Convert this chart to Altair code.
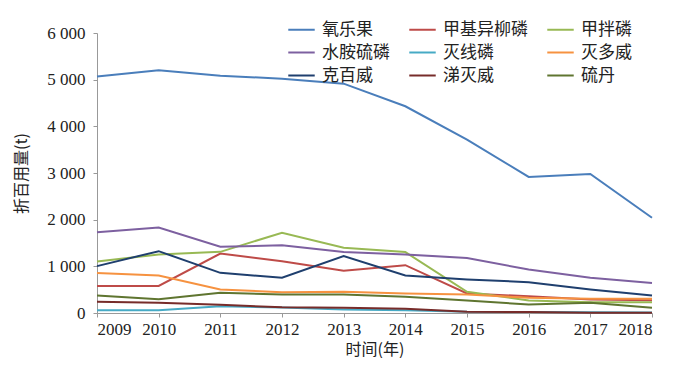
import altair as alt
import pandas as pd

years = [2009, 2010, 2011, 2012, 2013, 2014, 2015, 2016, 2017, 2018]
names = ["氧乐果", "甲基异柳磷", "甲拌磷", "水胺硫磷", "灭线磷", "灭多威", "克百威", "涕灭威", "硫丹"]
colors = ["#4a7ebb", "#be4b48", "#98b954", "#7d60a0", "#46aac5", "#f69240", "#1f3f6e", "#772c2a", "#5f7530"]

omethoate = [5070, 5200, 5085, 5020, 4915, 4430, 3715, 2915, 2980, 2040]
isofenphos = [580, 580, 1275, 1110, 905, 1025, 418, 360, 290, 275]
phorate = [1105, 1255, 1310, 1720, 1400, 1305, 455, 268, 230, 230]
isocarbophos = [1730, 1830, 1420, 1450, 1305, 1255, 1180, 930, 755, 645]
ethoprophos = [60, 60, 145, 117, 74, 60, 25, 20, 15, 10]
methomyl = [855, 805, 505, 445, 455, 418, 395, 325, 303, 303]
carbofuran = [1005, 1325, 860, 755, 1220, 805, 720, 660, 505, 375]
aldicarb = [240, 218, 175, 124, 110, 89, 25, 20, 8, 5]
endosulfan = [375, 295, 432, 395, 395, 347, 268, 182, 218, 110]

series = [omethoate, isofenphos, phorate, isocarbophos, ethoprophos,
          methomyl, carbofuran, aldicarb, endosulfan]

rows = []
for n, vals in zip(names, series):
    for y, v in zip(years, vals):
        rows.append({"year": y, "value": v, "name": n})
df = pd.DataFrame(rows)

# legend is filled column by column: reorder so rows read as in the reference
legend_order = [names[i] for i in (0, 3, 6, 1, 4, 7, 2, 5, 8)]
legend_colors = [colors[i] for i in (0, 3, 6, 1, 4, 7, 2, 5, 8)]

serif = "Liberation Serif"
cjk = "Noto Sans CJK SC"

chart = alt.Chart(df).mark_line(strokeWidth=2).encode(
    x=alt.X("year:Q",
            scale=alt.Scale(domain=[2009, 2018], nice=False, zero=False),
            axis=alt.Axis(values=years, format="d", title="时间(年)",
                          labelFont=serif, labelFontSize=17, labelColor="#222",
                          titleFont=cjk, titleFontSize=16, titleFontWeight="normal",
                          titleColor="#222", titlePadding=4,
                          domainColor="#999", tickColor="#999", tickSize=4,
                          grid=False, labelPadding=4, labelOverlap=False)),
    y=alt.Y("value:Q",
            scale=alt.Scale(domain=[0, 6000], nice=False),
            axis=alt.Axis(values=[0, 1000, 2000, 3000, 4000, 5000, 6000],
                          labelExpr="replace(format(datum.value, ','), ',', ' ')",
                          title="折百用量(t)",
                          labelFont=serif, labelFontSize=17, labelColor="#222",
                          titleFont=cjk, titleFontSize=16, titleFontWeight="normal",
                          titleColor="#222", titlePadding=17,
                          domainColor="#999", tickColor="#999", tickSize=4,
                          grid=False, labelPadding=8)),
    color=alt.Color("name:N",
                    scale=alt.Scale(domain=legend_order, range=legend_colors),
                    legend=alt.Legend(title=None, orient="none", legendX=190, legendY=-18,
                                      columns=3, symbolType="stroke", symbolSize=700,
                                      symbolStrokeWidth=2, labelFont=cjk, labelFontSize=17,
                                      labelColor="#222", columnPadding=15, rowPadding=0,
                                      labelOffset=6, padding=0)),
).properties(
    width=555, height=280,
    autosize=alt.AutoSizeParams(type="none"),
    padding={"left": 89, "top": 25, "right": 40, "bottom": 45},
).configure_view(stroke=None)

chart.save("out.html", embed_options={"renderer": "svg", "actions": False})
